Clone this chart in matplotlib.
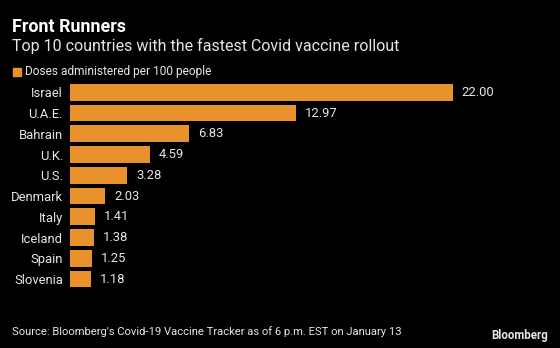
import matplotlib
matplotlib.use("Agg")
import matplotlib.pyplot as plt
from matplotlib.patches import Rectangle

countries = ["Israel", "U.A.E.", "Bahrain", "U.K.", "U.S.", "Denmark", "Italy", "Iceland", "Spain", "Slovenia"]
doses = [22.00, 12.97, 6.83, 4.59, 3.28, 2.03, 1.41, 1.38, 1.25, 1.18]

title = "Front Runners"
subtitle = "Top 10 countries with the fastest Covid vaccine rollout"
legend_label = "Doses administered per 100 people"
source = "Source: Bloomberg's Covid-19 Vaccine Tracker as of 6 p.m. EST on January 13"

BG = "black"
ORANGE = "#E8912D"
TXT = "#E6E6E6"
FONT = ["Roboto", "DejaVu Sans"]
plt.rcParams["font.family"] = FONT

W, H = 560, 348
fig = plt.figure(figsize=(W / 100, H / 100), dpi=100, facecolor=BG)

ax_left = 70 / W
ax_right = 540 / W
ax_top = 81.9
ax_bot = 289.4
ax = fig.add_axes([ax_left, 1 - ax_bot / H, ax_right - ax_left, (ax_bot - ax_top) / H])
ax.set_facecolor(BG)
ypos = list(range(len(countries)))
ax.barh(ypos, doses, height=0.8, color=ORANGE, left=0)
ax.set_ylim(len(countries) - 0.5, -0.5)
ax.set_xlim(0, 470 / 17.4)
for s in ax.spines.values():
    s.set_visible(False)
ax.set_xticks([])
ax.set_yticks(ypos)
ax.set_yticklabels(countries, color=TXT, fontsize=9.4)
ax.tick_params(axis="y", length=0, pad=5)
for y, v in zip(ypos, doses):
    ax.annotate(f"{v:.2f}", (v, y), xytext=(6.5, 0), textcoords="offset points",
                va="center", ha="left", color=TXT, fontsize=9.4)

fig.text(12 / W, 1 - 27 / H, title, color="white", fontsize=12.9, fontweight="bold",
         va="center", ha="left")
fig.text(12 / W, 1 - 46 / H, subtitle, color=TXT, fontsize=11.5, va="center", ha="left")
fig.patches.append(Rectangle((13 / W, 1 - 76 / H), 8 / W, 8 / H, transform=fig.transFigure,
                             color=ORANGE, figure=fig))
fig.text(25 / W, 1 - 72 / H, legend_label, color=TXT, fontsize=8.6, va="center", ha="left")
fig.text(12 / W, 1 - 332 / H, source, color=TXT, fontsize=8.1, va="center", ha="left")
fig.text(548 / W, 1 - 335 / H, "Bloomberg", color=TXT, fontsize=8.3, fontweight="bold",
         va="center", ha="right")

fig.savefig("out.png", dpi=100, facecolor=BG)
